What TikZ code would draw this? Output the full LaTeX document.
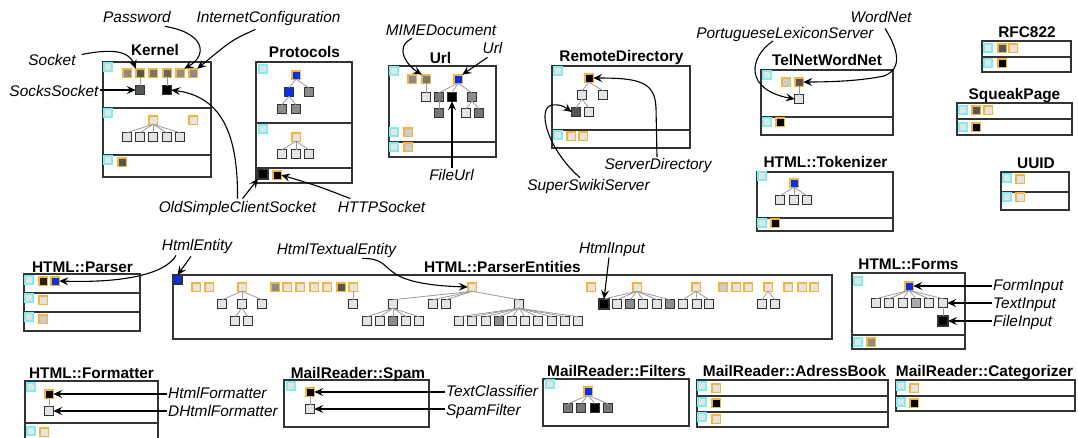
\documentclass[tikz,border=0pt]{standalone}
\usepackage{fontspec}
\setmainfont{Liberation Sans}
\usetikzlibrary{arrows.meta}
\definecolor{orng}{HTML}{F5B43C}
\definecolor{cyn}{HTML}{80EEEE}
\definecolor{lgr}{HTML}{E4E4E4}
\definecolor{mgr}{HTML}{8C8C8C}
\definecolor{dgr}{HTML}{555555}
\definecolor{gsix}{HTML}{666666}
\definecolor{gsev}{HTML}{777777}
\definecolor{gcc}{HTML}{CCCCCC}
\definecolor{gaa}{HTML}{AAAAAA}
\definecolor{gtwo}{HTML}{222222}
\definecolor{blu}{HTML}{0A2FE8}
\definecolor{frm}{HTML}{333333}
\definecolor{lnk}{HTML}{9A9A9A}
\tikzset{
  sq/.style={draw=frm, line width=1.1pt, minimum size=8.5pt, inner sep=0pt, outer sep=0pt, fill=#1},
  sq/.default=lgr,
  osq/.style={draw=orng, line width=1.5pt, minimum size=8.5pt, inner sep=0pt, outer sep=0pt, fill=#1},
  osq/.default=lgr,
  bsq/.style={draw=frm, line width=1.1pt, minimum size=10pt, inner sep=0pt, outer sep=0pt, fill=#1},
  bsq/.default=black,
  csq/.style={draw=cyn, line width=1.3pt, minimum size=8pt, inner sep=0pt, fill=lgr},
  frame/.style={draw=frm, line width=1.5pt},
  ttl/.style={font=\fontsize{15.4}{18}\selectfont\bfseries, inner sep=1pt, anchor=base},
  lbl/.style={font=\fontsize{15.4}{18}\selectfont\itshape, inner sep=1pt, anchor=base},
  lblw/.style={lbl, anchor=base west},
  arr/.style={-{Stealth[length=9pt,width=8pt,inset=3.5pt]}, line width=1.1pt, draw=black},
  tr/.style={draw=lnk, line width=0.8pt},
}
\newcommand\trlinks[2]{\foreach \cc in {#2}{\draw[tr] (#1.south) -- (\cc.north);}}
\begin{document}
\begin{tikzpicture}[x=1pt,y=-1pt]
\useasboundingbox (0,0) rectangle (1078,437);

% ---------------- Kernel
\draw[frame] (103,62) rectangle (211,177);
\draw[frame] (103,108) -- (211,108);
\draw[frame] (103,155) -- (211,155);
\node[ttl] (tKernel) at (155,55) {Kernel};
\node[csq] (kc1) at (108,67) {};
\node[csq] (kc2) at (108,113) {};
\node[csq] (kc3) at (108,160) {};
\node[osq=mgr] (k1) at (127,73) {};
\node[osq=dgr] (k2) at (140,73) {};
\node[osq=gsev] (k3) at (153,73) {};
\node[osq=gsix] (k4) at (167,73) {};
\node[osq=mgr] (k5) at (180,73) {};
\node[osq=mgr] (k6) at (193,73) {};
\node[sq=dgr] (k7) at (140,90) {};
\node[sq=black] (k8) at (167,90) {};
\trlinks{k2}{k7}
\trlinks{k4}{k8}
\node[osq] (k9) at (153,120) {};
\node[osq] (k10) at (193,120) {};
\foreach \i/\x in {11/127,12/140,13/153,14/167,15/180} \node[sq] (k\i) at (\x,137) {};
\trlinks{k9}{k11,k12,k13,k14,k15}
\node[osq=dgr] (k16) at (122,162) {};

\node[lbl] (pw) at (137,22) {Password};
\node[lbl] (ic) at (268.5,22) {InternetConfiguration};
\node[lbl] (sk) at (52,65) {Socket};
\node[lbl] (ss) at (54,96) {SocksSocket};
\node[lbl] (ocs) at (237.5,212) {OldSimpleClientSocket};
\node[lbl] (http) at (381.5,212) {HTTPSocket};

\draw[arr] ([shift={(28,3)}]pw.south) .. controls (205,33) and (208,55) .. (k5.north east);
\draw[arr] ([shift={(-13,3)}]ic.south) .. controls (232,40) .. (k6.north east);
\draw[arr] ([shift={(5,-5)}]sk.east) .. controls (105,50) and (128,48) .. (k2.north west);
\draw[arr] (k7.west -| ss.east) -- (k7.west);
\draw[arr] ([shift={(0,-1)}]ocs.north) .. controls (238,140) and (225,97) .. (k8.east);

% ---------------- Protocols
\draw[frame] (256,62) rectangle (352,183);
\draw[frame] (256,123) -- (352,123);
\draw[frame] (256,168) -- (352,168);
\node[ttl] (tProt) at (304.5,57) {Protocols};
\node[csq] (pc1) at (263,69) {};
\node[csq] (pc2) at (263,129) {};
\node[osq=blu] (p1) at (296,75) {};
\node[sq=blu] (p2) at (289,92) {};
\node[sq=mgr] (p3) at (309,92) {};
\node[sq=mgr] (p4) at (282,109) {};
\node[sq=mgr] (p5) at (296,109) {};
\trlinks{p1}{p2,p3}
\trlinks{p2}{p4,p5}
\node[osq] (p6) at (296,137) {};
\foreach \i/\x in {7/282,8/296,9/309} \node[sq] (p\i) at (\x,154) {};
\trlinks{p6}{p7,p8,p9}
\node[bsq] (p10) at (263,174) {};
\node[osq=black] (p11) at (277,175) {};
\draw[arr] ([shift={(5,-1)}]ocs.north) -- (p10.south west);
\draw[arr] ([shift={(-31,-1)}]http.north) .. controls (318,186) .. (p11.east);

% ---------------- Url
\draw[frame] (389,66) rectangle (496,157);
\draw[frame] (389,142) -- (496,142);
\node[ttl] (tUrl) at (440.5,63) {Url};
\node[csq] (uc1) at (394,71) {};
\node[csq] (uc2) at (394,132) {};
\node[csq] (uc3) at (394,147) {};
\node[osq=mgr] (u1) at (412,79) {};
\node[osq=gsev] (u2) at (426,79) {};
\node[osq=blu] (u3) at (458,79) {};
\node[sq] (u4) at (426,97) {};
\node[sq=gsev] (u5) at (439,97) {};
\node[sq=black] (u6) at (452,97) {};
\node[sq=mgr] (u7) at (472,97) {};
\node[sq=gsev] (u8) at (439,113) {};
\node[sq] (u9) at (466,113) {};
\node[sq=gsev] (u10) at (479,113) {};
\trlinks{u2}{u4}
\trlinks{u3}{u5,u6,u7}
\trlinks{u5}{u8}
\trlinks{u7}{u9,u10}
\node[osq=gcc] (u11) at (408,132) {};
\node[osq=gcc] (u12) at (408,147) {};
\node[lbl] (mime) at (441,35) {MIMEDocument};
\node[lbl] (ul) at (492.5,53) {Url};
\node[lbl] (fu) at (451.5,180) {FileUrl};
\draw[arr] ([shift={(-29,2)}]mime.south) .. controls (393,48) and (408,66) .. (u2.north west);
\draw[arr] ([shift={(-5,3)}]ul.south) -- (u3.north east);
\draw[arr] (u6.south |- fu.north) -- (u6.south);

% ---------------- RemoteDirectory
\draw[frame] (552,66) rectangle (690,148);
\draw[frame] (552,130) -- (690,130);
\node[ttl] (tRD) at (621.5,61) {RemoteDirectory};
\node[csq] (rc1) at (558,71) {};
\node[csq] (rc2) at (558,135) {};
\node[osq=black] (r1) at (589,78) {};
\node[sq] (r2) at (582,95) {};
\node[sq] (r3) at (603,95) {};
\node[sq=dgr] (r4) at (576,112) {};
\node[sq] (r5) at (589,112) {};
\trlinks{r1}{r2,r3}
\trlinks{r2}{r4,r5}
\node[osq] (r6) at (571,136) {};
\node[osq] (r7) at (583,136) {};
\node[lbl] (sd) at (658,169.5) {ServerDirectory};
\node[lbl] (sws) at (588.5,190) {SuperSwikiServer};
\draw[arr] ([shift={(-1,0)}]sd.north) -- (656,108) .. controls (655,82) and (640,78) .. (r1.east);
\draw[arr] ([shift={(-8.5,0)}]sws.north) .. controls (548,150) and (536,108) .. (552,105) .. controls (562,104) and (566,108) .. (r4.west);

% ---------------- TelNetWordNet
\draw[frame] (761,70) rectangle (893,135);
\draw[frame] (761,117) -- (893,117);
\node[ttl] (tTel) at (827,65) {TelNetWordNet};
\node[csq] (tc1) at (767,75) {};
\node[csq] (tc2) at (767,122) {};
\node[osq=gcc] (t1) at (786,82) {};
\node[osq=dgr] (t2) at (799,82) {};
\node[sq] (t3) at (799,99) {};
\trlinks{t2}{t3}
\node[osq=black] (t4) at (780,122) {};
\node[lbl] (wn) at (881,22) {WordNet};
\node[lbl] (pls) at (785,38.5) {PortugueseLexiconServer};
\draw[arr] ([shift={(4,5)}]wn.south) .. controls (897,48) and (904,68) .. (884,76) .. controls (860,81) and (830,82) .. (t2.east);
\draw[arr] ([shift={(-12,-2)}]pls.south) .. controls (748,58) and (745,90) .. (t3.west);

% ---------------- HTML::Tokenizer
\draw[frame] (757,172) rectangle (893,231);
\draw[frame] (757,218) -- (893,218);
\node[ttl] (tTok) at (825.5,167) {HTML::Tokenizer};
\node[csq] (hc1) at (762,176) {};
\node[csq] (hc2) at (762,223) {};
\node[osq=blu] (h1) at (794,183) {};
\node[sq] (h2) at (780,200) {};
\node[sq] (h3) at (794,200) {};
\node[sq] (h4) at (807,200) {};
\trlinks{h1}{h2,h3,h4}
\node[osq=black] (h5) at (775,223) {};

% ---------------- RFC822
\draw[frame] (982,41) rectangle (1071,72);
\draw[frame] (982,57) -- (1071,57);
\node[ttl] (tRFC) at (1027,37) {RFC822};
\node[csq] (rfc1) at (988,48) {};
\node[csq] (rfc2) at (988,63) {};
\node[osq=dgr] (rf1) at (1002,48) {};
\node[osq] (rf2) at (1013,48) {};
\node[osq=black] (rf3) at (1002,63) {};

% ---------------- SqueakPage
\draw[frame] (957,103) rectangle (1072,135);
\draw[frame] (957,119) -- (1072,119);
\node[ttl] (tSq) at (1014.5,99) {SqueakPage};
\node[csq] (spc1) at (963,110) {};
\node[csq] (spc2) at (963,127) {};
\node[osq=dgr] (sp1) at (976,110) {};
\node[osq] (sp2) at (988,110) {};
\node[osq=black] (sp3) at (976,127) {};

% ---------------- UUID
\draw[frame] (1001,172) rectangle (1069,210);
\draw[frame] (1001,192) -- (1069,192);
\node[ttl] (tUU) at (1036,168) {UUID};
\node[csq] (uuc1) at (1007,178) {};
\node[csq] (uuc2) at (1007,197) {};
\node[osq] (uu1) at (1020,179) {};
\node[osq] (uu2) at (1020,197) {};

% ---------------- HTML::Parser
\draw[frame] (24,274) rectangle (140,331);
\draw[frame] (24,293) -- (140,293);
\draw[frame] (24,312) -- (140,312);
\node[ttl] (tPar) at (82.5,272) {HTML::Parser};
\node[csq] (hpc1) at (29,280) {};
\node[csq] (hpc2) at (29,298) {};
\node[csq] (hpc3) at (29,317) {};
\node[osq=gtwo] (hp1) at (43,281) {};
\node[osq=blu] (hp2) at (55,281) {};
\node[osq] (hp3) at (43,300) {};
\node[osq=gcc] (hp4) at (43,319) {};

% ---------------- HTML::ParserEntities
\draw[frame] (173,275) rectangle (832,339);
\node[ttl] (tPE) at (502.5,272) {HTML::ParserEntities};
\node[sq=blu, minimum size=9pt] (pe0) at (177.5,279.5) {};
\foreach \i/\x/\c in {1/196/lgr,2/209/lgr,3/242/lgr,4/275/mgr,5/287/lgr,6/300/lgr,7/314/lgr,8/327/lgr,9/341/dgr,10/353/lgr,11/472/lgr,12/591/lgr,13/637/lgr,14/696/lgr,15/723/gcc,16/736/lgr,17/748/lgr,18/768/lgr,19/788/lgr,20/802/lgr,21/814/lgr}
  \node[osq=\c] (o\i) at (\x,287) {};
\foreach \n/\x/\c in {a1/222/lgr,a2/242/lgr,a3/262/lgr,a4/353/lgr,b1/393/lgr,b2/433/lgr,b3/446/lgr,b4/519/lgr,c2/617/lgr,c3/630/mgr,c4/643/lgr,c5/657/lgr,c6/670/mgr,d1/683/lgr,d2/697/lgr,d3/709/lgr,e1/762/lgr,e2/775/lgr}
  \node[sq=\c] (\n) at (\x,304) {};
\node[bsq] (c1) at (604,304) {};
\foreach \n/\x/\c in {g1/235/lgr,g2/248/lgr,m1/367/lgr,m2/380/lgr,m3/393/mgr,m4/406/lgr,m5/419/lgr,n1/459/lgr,n2/472/lgr,n3/486/lgr,n4/499/mgr,n5/512/lgr,n6/525/lgr,n7/538/lgr,n8/552/lgr,n9/565/lgr,n10/578/lgr}
  \node[sq=\c] (\n) at (\x,321) {};
\trlinks{o3}{a1,a2,a3}
\trlinks{a2}{g1,g2}
\trlinks{o10}{a4}
\trlinks{o11}{b1,b2,b3,b4}
\trlinks{b1}{m1,m2,m3,m4,m5}
\trlinks{b4}{n1,n2,n3,n4,n5,n6,n7,n8,n9,n10}
\trlinks{o13}{c1,c2,c3,c4,c5,c6}
\trlinks{o14}{d1,d2,d3}
\trlinks{o18}{e1,e2}

\node[lbl] (he) at (197,250) {HtmlEntity};
\node[lbl] (hte) at (336.5,254) {HtmlTextualEntity};
\node[lbl] (hi) at (612,253) {HtmlInput};
\draw[arr] ([shift={(-21,1)}]he.south) .. controls (165,275) and (120,283) .. (hp2.east);
\draw[arr] ([shift={(-6,2)}]he.south) -- (pe0.north);
\draw[arr] ([shift={(25.5,0)}]hte.south) .. controls (400,258) and (370,284) .. (o11.west);
\draw[arr] ([shift={(-3,0)}]hi.south) -- (c1.north);

% ---------------- HTML::Forms
\draw[frame] (852,273) rectangle (965,349);
\draw[frame] (852,335) -- (965,335);
\node[ttl] (tForms) at (908.5,269) {HTML::Forms};
\node[csq] (fc1) at (858,281) {};
\node[csq] (fc2) at (858,342) {};
\node[osq=blu] (f1) at (909,286) {};
\foreach \i/\x/\c in {2/876/lgr,3/889/lgr,4/903/lgr,5/916/gaa,6/929/lgr,7/943/lgr}
  \node[sq=\c] (f\i) at (\x,303) {};
\node[bsq] (f8) at (943,321) {};
\trlinks{f1}{f2,f3,f4,f5,f6,f7}
\trlinks{f7}{f8}
\node[osq=mgr] (f9) at (871,342) {};
\node[lblw] (fi) at (992,290) {FormInput};
\node[lblw] (ti) at (992,308) {TextInput};
\node[lblw] (fl) at (992,326) {FileInput};
\draw[arr] (f1.east -| fi.west) -- (f1.east);
\draw[arr] (f7.east -| ti.west) -- (f7.east);
\draw[arr] (f8.east -| fl.west) -- (f8.east);

% ---------------- HTML::Formatter
\draw[frame] (25,381) rectangle (158,445);
\draw[frame] (25,423) -- (158,423);
\node[ttl] (tFmt) at (91.5,378) {HTML::Formatter};
\node[csq] (hfc1) at (31,387) {};
\node[csq] (hfc2) at (31,431) {};
\node[osq=black] (hf1) at (49,394) {};
\node[sq] (hf2) at (49,411) {};
\trlinks{hf1}{hf2}
\node[osq] (hf3) at (44,432) {};
\node[lblw] (hfl) at (167,398.5) {HtmlFormatter};
\node[lblw] (dhf) at (167,416) {DHtmlFormatter};
\draw[arr] (hf1.east -| hfl.west) -- (hf1.east);
\draw[arr] (hf2.east -| dhf.west) -- (hf2.east);

% ---------------- MailReader::Spam
\draw[frame] (284,380) rectangle (429,427);
\node[ttl] (tSpam) at (358,378) {MailReader::Spam};
\node[csq] (msc1) at (291,386) {};
\node[osq=black] (ms1) at (310,392) {};
\node[sq] (ms2) at (310,409) {};
\trlinks{ms1}{ms2}
\node[lblw] (tcl) at (445,396) {TextClassifier};
\node[lblw] (spf) at (445,415) {SpamFilter};
\draw[arr] (ms1.east -| tcl.west) -- (ms1.east);
\draw[arr] (ms2.east -| spf.west) -- (ms2.east);

% ---------------- MailReader::Filters
\draw[frame] (543,379) rectangle (689,426);
\node[ttl] (tFil) at (616.5,376) {MailReader::Filters};
\node[csq] (mfc1) at (550,384) {};
\node[osq=blu] (mf1) at (588,391) {};
\node[sq=gsev] (mf2) at (568,408) {};
\node[sq=gsev] (mf3) at (581,408) {};
\node[sq=black] (mf4) at (595,408) {};
\node[sq=gsev] (mf5) at (608,408) {};
\trlinks{mf1}{mf2,mf3,mf4,mf5}

% ---------------- MailReader::AdressBook
\draw[frame] (697,380) rectangle (888,427);
\draw[frame] (697,396) -- (888,396);
\draw[frame] (697,412) -- (888,412);
\node[ttl] (tAB) at (794.5,376) {MailReader::AdressBook};
\node[csq] (mac1) at (702,386) {};
\node[csq] (mac2) at (702,402) {};
\node[csq] (mac3) at (702,417) {};
\node[osq] (ma1) at (716,388) {};
\node[osq=black] (ma2) at (716,403) {};
\node[osq] (ma3) at (716,419) {};

% ---------------- MailReader::Categorizer
\draw[frame] (896,380) rectangle (1075,411);
\draw[frame] (896,396) -- (1075,396);
\node[ttl] (tCat) at (984.5,376) {MailReader::Categorizer};
\node[csq] (mcc1) at (901,386) {};
\node[csq] (mcc2) at (901,402) {};
\node[osq] (mc1) at (914,388) {};
\node[osq=black] (mc2) at (914,403) {};
\end{tikzpicture}
\end{document}
